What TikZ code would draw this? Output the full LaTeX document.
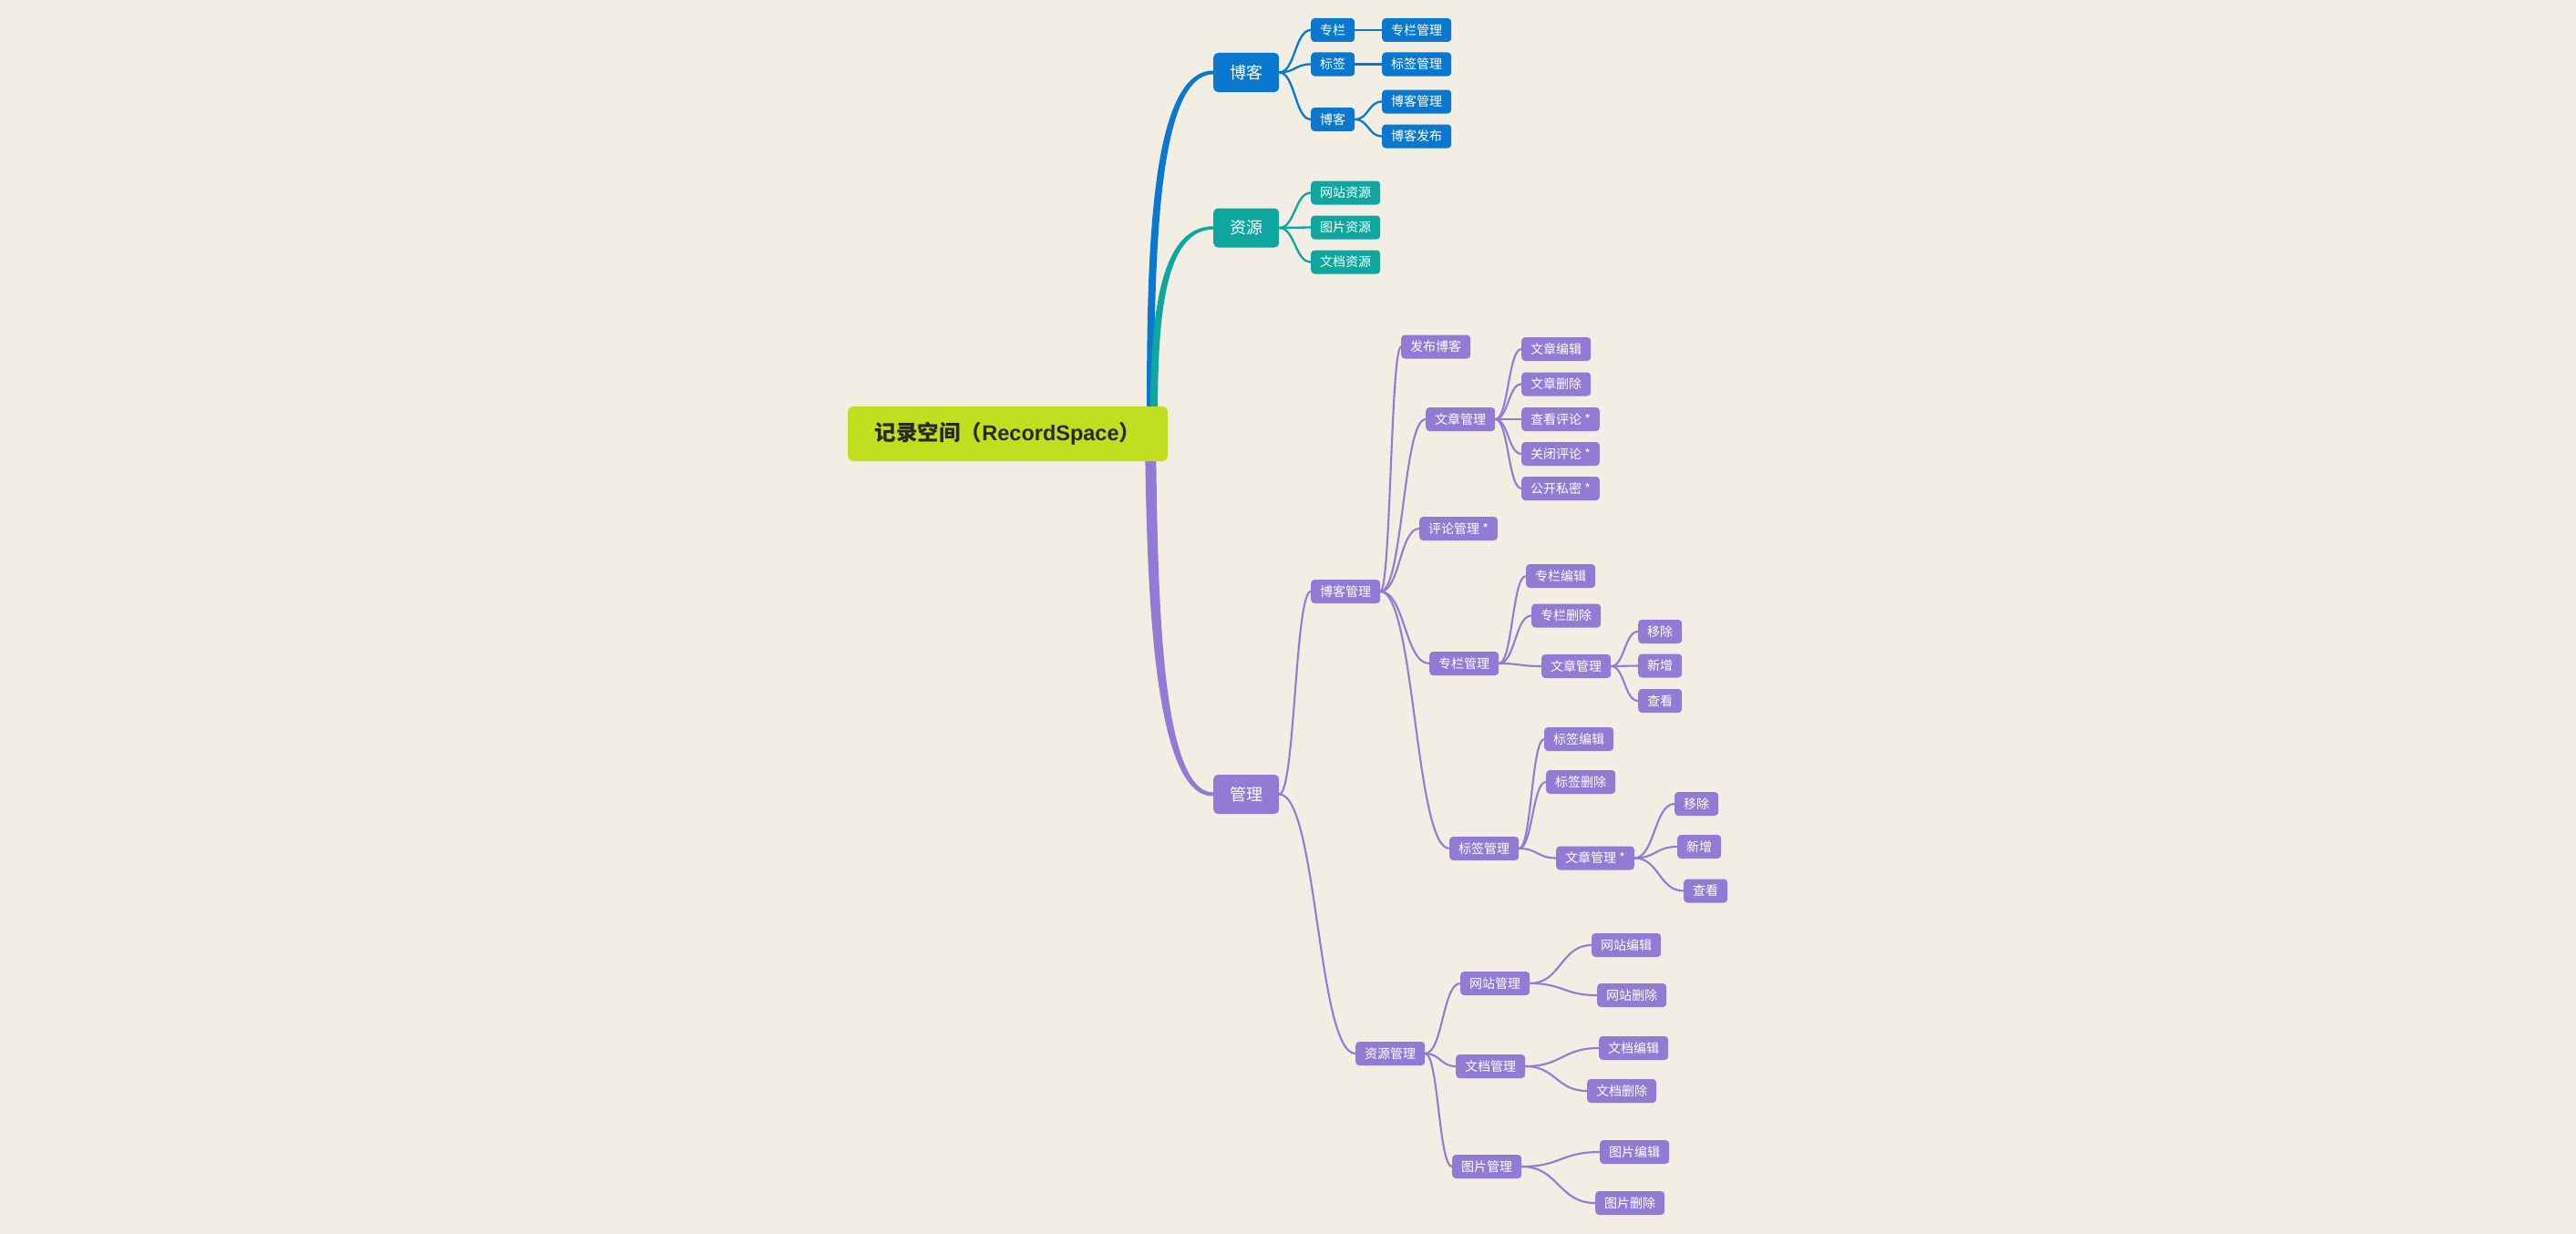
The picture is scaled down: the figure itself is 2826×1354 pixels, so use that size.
\documentclass[tikz,border=0pt]{standalone}
\usepackage{fontspec}
\newfontfamily\cjk{Noto Sans CJK SC}
\newfontfamily\latb{Liberation Sans}
\usetikzlibrary{calc}
\definecolor{cblue}{RGB}{11,120,208}
\definecolor{cteal}{RGB}{16,166,160}
\definecolor{cpurple}{RGB}{145,123,213}
\definecolor{clime}{RGB}{192,223,31}
\definecolor{cbg}{RGB}{242,238,228}
\definecolor{cdark}{RGB}{42,42,28}
\pgfdeclarelayer{bg}
\pgfdeclarelayer{lines}
\pgfsetlayers{bg,lines,main}
\newcommand\mmlink[3]{\draw[#1] let \p1=(#2.east), \p2=(#3.west) in (\p1) .. controls ({(\x1+\x2)/2},\y1) and ({(\x1+\x2)/2},\y2) .. (\p2);}
\begin{document}
\begin{tikzpicture}[x=1pt,y=-1pt,
  base/.style={rounded corners=4pt, text=white, font=\cjk\fontsize{14}{16}\selectfont, minimum height=26pt, inner xsep=10pt, inner ysep=0pt, anchor=west},
  bl/.style={base, fill=cblue},
  te/.style={base, fill=cteal},
  pu/.style={base, fill=cpurple},
  lone/.style={rounded corners=5pt, text=white, font=\cjk\fontsize{18}{20}\selectfont, minimum height=43pt, minimum width=72pt, inner xsep=18pt, inner ysep=0pt, anchor=west},
  rootbox/.style={rounded corners=6pt, fill=clime, text=cdark, minimum width=351pt, minimum height=60pt, inner sep=0pt},
  bline/.style={draw=cblue, line width=2.3pt, line cap=round},
  tline/.style={draw=cteal, line width=2.3pt, line cap=round},
  pline/.style={draw=cpurple, line width=2.1pt, line cap=round}
]
\begin{pgfonlayer}{bg}
\fill[cbg] (0,0) rectangle (2826,1354);
\end{pgfonlayer}
\useasboundingbox (0,0) rectangle (2826,1354);

% root
\node[rootbox] (root) at (1105.5,476) {\fontsize{23.5}{26}\selectfont{\cjk\bfseries 记录空间（}{\latb\bfseries RecordSpace}{\cjk\bfseries ）}};
\coordinate (hub) at (1262,476);

% level 1
\node[lone, fill=cblue] (gBlog) at (1331,79.5) {博客};
\node[lone, fill=cteal] (gRes) at (1331,250) {资源};
\node[lone, fill=cpurple] (gMng) at (1331,871.5) {管理};

% blue branch
\node[bl] (bZl) at (1438,33) {专栏};
\node[bl] (bBq) at (1438,70.5) {标签};
\node[bl] (bBk) at (1438,131) {博客};
\node[bl] (bZlgl) at (1516,33) {专栏管理};
\node[bl] (bBqgl) at (1516,70.5) {标签管理};
\node[bl] (bBkgl) at (1516,111.5) {博客管理};
\node[bl] (bBkfb) at (1516,149.5) {博客发布};

% teal branch
\node[te] (rWz) at (1438,211.5) {网站资源};
\node[te] (rTp) at (1438,249.5) {图片资源};
\node[te] (rWd) at (1438,287.5) {文档资源};

% purple branch
\node[pu] (mBkgl) at (1438,649) {博客管理};
\node[pu] (mFbbk) at (1537,380.5) {发布博客};
\node[pu] (mWzgl1) at (1564,460) {文章管理};
\node[pu] (mWzbj) at (1669,383) {文章编辑};
\node[pu] (mWzsc) at (1669,421.5) {文章删除};
\node[pu] (mCkpl) at (1669,460) {查看评论 *};
\node[pu] (mGbpl) at (1669,498) {关闭评论 *};
\node[pu] (mGksm) at (1669,536) {公开私密 *};
\node[pu] (mPlgl) at (1557,580) {评论管理 *};
\node[pu] (mZlgl) at (1568,728) {专栏管理};
\node[pu] (mZlbj) at (1674,632) {专栏编辑};
\node[pu] (mZlsc) at (1680,675.5) {专栏删除};
\node[pu] (mWzgl2) at (1691,731) {文章管理};
\node[pu] (mYc1) at (1797,693) {移除};
\node[pu] (mXz1) at (1797,730.5) {新增};
\node[pu] (mCk1) at (1797,769) {查看};
\node[pu] (mBqgl) at (1590,931) {标签管理};
\node[pu] (mBqbj) at (1694,811) {标签编辑};
\node[pu] (mBqsc) at (1696,858) {标签删除};
\node[pu] (mWzgl3) at (1707,941.5) {文章管理 *};
\node[pu] (mYc2) at (1837,882) {移除};
\node[pu] (mXz2) at (1840,929) {新增};
\node[pu] (mCk2) at (1847,977.5) {查看};
\node[pu] (mZygl) at (1487,1156) {资源管理};
\node[pu] (mWzg) at (1602,1079) {网站管理};
\node[pu] (mWzbj2) at (1746,1037) {网站编辑};
\node[pu] (mWzsc2) at (1752,1092) {网站删除};
\node[pu] (mWdgl) at (1597,1170) {文档管理};
\node[pu] (mWdbj) at (1754,1150) {文档编辑};
\node[pu] (mWdsc) at (1741,1197) {文档删除};
\node[pu] (mTpgl) at (1593,1280) {图片管理};
\node[pu] (mTpbj) at (1755,1264) {图片编辑};
\node[pu] (mTpsc) at (1750,1320) {图片删除};

\begin{pgfonlayer}{lines}
% tapered main branches
\fill[cpurple] ([xshift=-6pt]hub) .. controls (1258,640) and (1264,875) .. ([yshift=-2pt]gMng.west)
  -- ([yshift=2pt]gMng.west) .. controls (1272,869) and (1270,640) .. ([xshift=6pt]hub) -- cycle;
\fill[cblue] ([xshift=-4pt]hub) .. controls (1258,300) and (1258,77.5) .. ([yshift=2pt]gBlog.west)
  -- ([yshift=-2pt]gBlog.west) .. controls (1267,81.5) and (1266,300) .. ([xshift=4pt]hub) -- cycle;
\fill[cteal] (hub) .. controls (1262,380) and (1263,248.25) .. ([yshift=1.75pt]gRes.west)
  -- ([yshift=-1.75pt]gRes.west) .. controls (1270,251.75) and (1270,380) .. ([xshift=8pt]hub) -- cycle;

\foreach \a/\b in {gBlog/bZl,gBlog/bBq,gBlog/bBk,bZl/bZlgl,bBq/bBqgl,bBk/bBkgl,bBk/bBkfb}{\mmlink{bline}{\a}{\b}}
\foreach \a/\b in {gRes/rWz,gRes/rTp,gRes/rWd}{\mmlink{tline}{\a}{\b}}
\foreach \a/\b in {gMng/mBkgl,gMng/mZygl,
  mBkgl/mFbbk,mBkgl/mWzgl1,mBkgl/mPlgl,mBkgl/mZlgl,mBkgl/mBqgl,
  mWzgl1/mWzbj,mWzgl1/mWzsc,mWzgl1/mCkpl,mWzgl1/mGbpl,mWzgl1/mGksm,
  mZlgl/mZlbj,mZlgl/mZlsc,mZlgl/mWzgl2,
  mWzgl2/mYc1,mWzgl2/mXz1,mWzgl2/mCk1,
  mBqgl/mBqbj,mBqgl/mBqsc,mBqgl/mWzgl3,
  mWzgl3/mYc2,mWzgl3/mXz2,mWzgl3/mCk2,
  mZygl/mWzg,mZygl/mWdgl,mZygl/mTpgl,
  mWzg/mWzbj2,mWzg/mWzsc2,
  mWdgl/mWdbj,mWdgl/mWdsc,
  mTpgl/mTpbj,mTpgl/mTpsc}{\mmlink{pline}{\a}{\b}}
\end{pgfonlayer}
\end{tikzpicture}
\end{document}
